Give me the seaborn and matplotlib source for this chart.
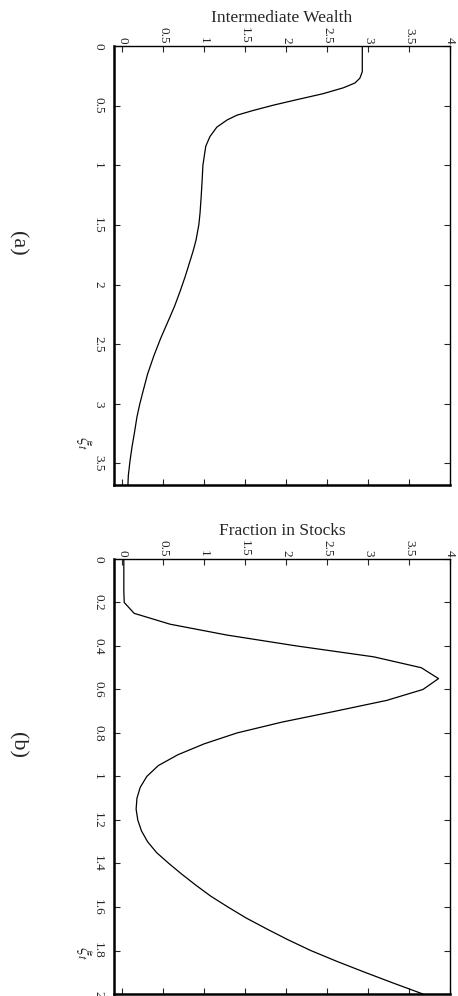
import numpy as np
import pandas as pd
import matplotlib
matplotlib.use("Agg")
import matplotlib.pyplot as plt
import seaborn as sns

# ==========================================
# Data
# ==========================================
# (a) Intermediate Wealth vs xi_t
xi_a = [0.0, 0.1, 0.215, 0.27, 0.31, 0.35, 0.40, 0.45, 0.495, 0.54, 0.58, 0.62,
        0.68, 0.76, 0.84, 0.93, 1.0, 1.12, 1.25, 1.40, 1.50, 1.63, 1.72, 1.82,
        1.93, 2.05, 2.18, 2.30, 2.45, 2.60, 2.75, 2.88, 3.0, 3.11, 3.24, 3.36,
        3.48, 3.60, 3.68]
wealth = [2.93, 2.93, 2.93, 2.90, 2.84, 2.70, 2.45, 2.13, 1.85, 1.60, 1.40, 1.28,
          1.155, 1.07, 1.02, 1.00, 0.985, 0.976, 0.965, 0.95, 0.935, 0.90, 0.865, 0.82,
          0.77, 0.71, 0.64, 0.565, 0.47, 0.385, 0.31, 0.26, 0.215, 0.18, 0.15, 0.12,
          0.095, 0.075, 0.07]

# (b) Fraction in Stocks vs xi_t
xi_b = [0.0, 0.05, 0.1, 0.15, 0.2, 0.25, 0.3, 0.35, 0.4, 0.45, 0.5, 0.55, 0.6,
        0.65, 0.7, 0.75, 0.8, 0.85, 0.9, 0.95, 1.0, 1.05, 1.1, 1.15, 1.2, 1.25,
        1.3, 1.35, 1.4, 1.45, 1.5, 1.55, 1.6, 1.65, 1.7, 1.75, 1.8, 1.85, 1.9,
        1.95, 2.0]
stocks = [0.02, 0.02, 0.02, 0.02, 0.025, 0.146, 0.585, 1.28, 2.13, 3.07, 3.65, 3.86,
          3.67, 3.23, 2.60, 1.95, 1.40, 1.0, 0.68, 0.44, 0.30, 0.22, 0.18, 0.17,
          0.19, 0.235, 0.31, 0.42, 0.57, 0.73, 0.90, 1.08, 1.29, 1.51, 1.76, 2.02,
          2.30, 2.62, 2.96, 3.31, 3.67]

titles = ["Intermediate Wealth", "Fraction in Stocks"]
panel_tags = ["(a)", "(b)"]
val_ticks = [0, 0.5, 1, 1.5, 2, 2.5, 3, 3.5, 4]
val_labels = ["0", "0.5", "1", "1.5", "2", "2.5", "3", "3.5", "4"]
xi_ticks_a = [0, 0.5, 1, 1.5, 2, 2.5, 3, 3.5]
xi_labels_a = ["0", "0.5", "1", "1.5", "2", "2.5", "3", "3.5"]
xi_ticks_b = [0, 0.2, 0.4, 0.6, 0.8, 1, 1.2, 1.4, 1.6, 1.8, 2]
xi_labels_b = ["0", "0.2", "0.4", "0.6", "0.8", "1", "1.2", "1.4", "1.6", "1.8", "2"]

df_a = pd.DataFrame({"xi": xi_a, "val": wealth})
df_b = pd.DataFrame({"xi": xi_b, "val": stocks})

# ==========================================
# Style
# ==========================================
sns.set_style("ticks")
plt.rcParams["font.family"] = ["Liberation Serif", "DejaVu Serif"]
plt.rcParams["mathtext.fontset"] = "stix"

fig = plt.figure(figsize=(4.58, 9.96), dpi=100)
ax_a = fig.add_axes([0.2489, 0.5131, 0.7336, 0.4407])
ax_b = fig.add_axes([0.2489, 0.0020, 0.7336, 0.4368])

panels = [
    (ax_a, df_a, 3.68, xi_ticks_a, xi_labels_a),
    (ax_b, df_b, 2.0, xi_ticks_b, xi_labels_b),
]

for i, (ax, df, ymax, yt, yl) in enumerate(panels):
    sns.lineplot(data=df, x="val", y="xi", sort=False, estimator=None,
                 color="black", linewidth=0.9, ax=ax)
    ax.set_xlim(-0.1, 4)
    ax.set_ylim(ymax, 0)
    ax.set_xticks(val_ticks)
    ax.set_xticklabels(val_labels, rotation=-90)
    ax.set_yticks(yt)
    ax.set_yticklabels(yl, rotation=-90, va="center")
    ax.xaxis.set_ticks_position("both")
    ax.yaxis.set_ticks_position("both")
    ax.tick_params(axis="x", direction="in", length=4, width=0.8,
                   labeltop=True, labelbottom=False, labelsize=9.5, pad=1.5)
    ax.tick_params(axis="y", direction="in", length=4, width=0.8,
                   labelleft=True, labelright=False, labelsize=9.5, pad=7)
    for lab in ax.get_xticklabels():
        lab.set_verticalalignment("bottom")
    ax.set_xlabel("")
    ax.set_ylabel("")
    for side, sp in ax.spines.items():
        sp.set_visible(True)
        sp.set_color("black")
        sp.set_linewidth(1.8 if side in ("left", "bottom") else 1.0)

    ax.text(0.5, 1.055, titles[i], transform=ax.transAxes, ha="center",
            va="baseline", fontsize=12.5)
    ax.text(-0.089, 0.095, r"$\xi_t$", transform=ax.transAxes, rotation=-90,
            ha="center", va="center", fontsize=13)

fig.text(0.037, 0.756, panel_tags[0], rotation=-90, ha="center", va="center", fontsize=16)
fig.text(0.037, 0.252, panel_tags[1], rotation=-90, ha="center", va="center", fontsize=16)

fig.savefig("out.png", dpi=100)
